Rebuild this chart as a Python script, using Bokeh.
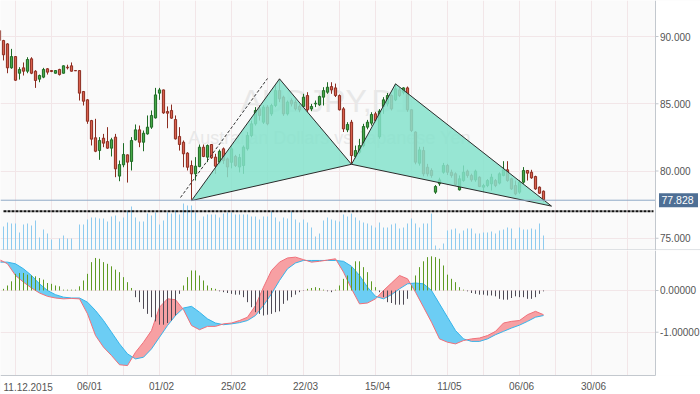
import numpy as np
from bokeh.plotting import figure
from bokeh.layouts import column
from bokeh.models import Range1d, FixedTicker, ColumnDataSource
from bokeh.core.properties import value
from bokeh.embed import file_html
from bokeh.resources import INLINE

# ---------------- data (bar index 0 = 11.12.2015, one bar per weekday) ----------------
bar_index = list(range(-4, 133))
opens = [90.45, 89.70, 89.45, 87.67, 88.51, 87.27, 87.67, 87.42, 88.34, 87.42,
         86.83, 86.98, 87.60, 87.47, 87.27, 87.55, 87.27, 87.72, 87.82, 87.47,
         87.47, 85.91, 85.29, 83.75, 82.47, 81.52, 82.44, 82.19, 81.70, 82.52,
         79.62, 80.46, 81.20, 80.71, 82.32, 83.06, 82.14, 82.76, 83.26, 83.95,
         85.79, 86.03, 84.42, 84.50, 83.83, 82.57, 82.14, 81.33, 80.41, 79.79,
         80.33, 81.77, 81.03, 81.97, 81.03, 80.66, 81.65, 80.90, 80.65, 81.08,
         80.30, 80.41, 81.65, 82.64, 83.51, 84.62, 83.63, 84.75, 84.25, 84.87,
         85.98, 85.49, 84.25, 85.24, 85.12, 84.80, 84.80, 85.61, 84.62, 84.99,
         84.92, 85.49, 85.86, 86.28, 86.18, 85.61, 84.62, 83.06, 83.63, 81.08,
         81.40, 81.89, 83.26, 83.56, 84.25, 82.55, 84.80, 84.99, 85.61, 85.29,
         86.03, 85.86, 86.18, 84.55, 82.90, 80.58, 81.52, 80.28, 80.04, 78.43,
         79.05, 79.91, 80.41, 79.91, 79.79, 78.60, 79.29, 79.99, 79.67, 79.34,
         79.54, 78.80, 78.92, 79.05, 79.29, 79.10, 79.67, 80.09, 79.42, 78.92,
         78.43, 79.17, 80.04, 79.91, 79.59, 78.80, 78.50]
highs = [90.60, 89.75, 89.50, 89.08, 88.55, 87.72, 88.07, 88.46, 88.46, 87.50,
         87.17, 87.67, 87.65, 87.50, 87.50, 87.60, 87.85, 87.90, 88.07, 87.50,
         87.50, 85.95, 85.35, 83.80, 83.88, 82.52, 82.76, 83.26, 82.47, 82.76,
         80.78, 82.07, 81.23, 82.52, 83.46, 83.38, 83.01, 84.13, 84.50, 86.18,
         86.18, 86.05, 84.80, 84.94, 84.13, 83.26, 82.27, 81.40, 80.78, 81.03,
         81.97, 81.97, 81.97, 82.00, 81.28, 81.60, 81.75, 81.00, 81.90, 81.20,
         81.27, 81.90, 82.89, 83.75, 84.75, 84.87, 84.90, 84.90, 85.00, 86.36,
         86.85, 85.60, 85.24, 85.40, 85.30, 84.95, 85.74, 85.86, 84.99, 85.24,
         85.60, 86.23, 86.60, 86.60, 86.50, 85.69, 84.75, 83.63, 83.80, 81.89,
         82.39, 83.51, 83.80, 84.37, 84.40, 84.60, 85.49, 85.80, 85.70, 86.48,
         86.20, 86.23, 86.28, 84.60, 82.95, 81.80, 81.80, 80.53, 80.20, 78.95,
         79.50, 80.60, 80.53, 80.10, 79.90, 79.67, 80.41, 80.10, 79.80, 80.10,
         79.60, 79.05, 79.40, 79.79, 79.40, 79.90, 80.73, 80.73, 79.50, 79.29,
         79.30, 80.29, 80.06, 80.09, 79.65, 78.85, 78.55]
lows = [89.60, 88.22, 87.27, 87.60, 86.70, 86.80, 87.10, 87.27, 87.20, 86.18,
        86.60, 86.90, 87.17, 87.35, 87.25, 87.10, 87.25, 87.55, 87.40, 87.44,
        85.24, 84.87, 83.51, 81.90, 81.40, 80.83, 81.77, 81.65, 81.08, 79.54,
        79.24, 80.28, 79.14, 80.04, 82.27, 81.77, 81.47, 82.70, 83.13, 83.90,
        85.29, 84.25, 83.18, 83.88, 82.34, 81.52, 80.28, 80.04, 77.80, 79.29,
        80.28, 81.03, 80.66, 80.90, 79.79, 80.50, 80.53, 79.54, 80.20, 80.30,
        79.90, 79.79, 81.52, 82.51, 83.38, 83.75, 83.50, 83.40, 84.10, 84.75,
        85.12, 84.10, 84.13, 84.80, 84.50, 84.37, 84.75, 84.37, 84.45, 84.75,
        84.85, 84.87, 85.74, 85.74, 85.50, 84.50, 82.90, 82.89, 80.53, 80.90,
        81.27, 81.77, 83.10, 83.38, 83.60, 82.40, 84.25, 84.80, 84.50, 85.20,
        85.50, 85.70, 84.40, 82.90, 80.50, 80.40, 79.60, 79.60, 79.50, 78.30,
        78.90, 79.80, 79.70, 79.50, 78.90, 78.55, 79.20, 79.50, 79.20, 79.20,
        78.80, 78.43, 78.80, 78.55, 78.80, 79.00, 79.60, 79.20, 78.60, 78.20,
        78.30, 79.05, 79.29, 79.42, 78.60, 78.30, 77.68]
closes = [89.70, 88.64, 87.67, 88.51, 86.75, 87.55, 87.42, 88.29, 87.27, 86.73,
          87.10, 87.55, 87.35, 87.40, 87.47, 87.17, 87.82, 87.67, 87.42, 87.45,
          85.79, 85.19, 83.70, 82.37, 81.47, 82.27, 82.07, 81.70, 82.32, 80.16,
          80.48, 81.23, 80.66, 82.27, 83.06, 82.14, 82.81, 83.26, 84.13, 85.66,
          86.03, 84.32, 84.30, 83.93, 82.39, 81.97, 81.28, 80.28, 79.79, 80.36,
          81.77, 81.08, 81.90, 80.98, 80.36, 81.47, 80.78, 80.30, 81.65, 80.41,
          81.00, 81.77, 82.64, 83.51, 84.50, 84.13, 84.75, 83.51, 84.87, 85.98,
          85.37, 84.25, 85.12, 84.99, 84.62, 84.55, 85.49, 84.55, 84.80, 85.04,
          85.54, 85.98, 86.23, 86.03, 85.61, 84.55, 83.13, 83.46, 81.15, 81.52,
          81.89, 83.31, 83.63, 84.20, 83.75, 84.45, 85.29, 85.61, 84.62, 86.11,
          85.61, 86.18, 84.55, 83.01, 80.66, 81.57, 79.79, 79.79, 79.67, 78.85,
          79.34, 80.41, 79.91, 79.67, 79.00, 79.42, 79.91, 79.67, 79.34, 79.99,
          78.85, 78.92, 79.29, 79.54, 78.92, 79.79, 80.09, 79.29, 78.67, 78.30,
          79.17, 80.04, 79.84, 79.49, 78.67, 78.35, 77.828]
volumes = [25, 24, 28, 27, 27, 18, 26, 27, 25, 30,
           13, 21, 17, 11, 0, 12, 15, 12, 12, 0,
           26, 26, 31, 33, 33, 32, 32, 29, 34, 35,
           29, 33, 40, 44, 33, 29, 29, 37, 35, 38,
           26, 30, 38, 37, 40, 36, 47, 45, 45, 38,
           30, 34, 36, 36, 36, 33, 37, 38, 38, 36,
           36, 36, 36, 34, 34, 31, 34, 34, 39, 33,
           29, 33, 32, 39, 31, 28, 31, 28, 23, 14,
           17, 30, 33, 31, 30, 29, 36, 34, 37, 33,
           30, 28, 27, 25, 23, 28, 23, 23, 26, 27,
           22, 23, 27, 32, 27, 23, 27, 27, 37, 5,
           2, 7, 20, 21, 22, 17, 20, 22, 22, 17,
           17, 18, 18, 19, 17, 20, 21, 23, 22, 12,
           23, 21, 21, 22, 21, 27, 15]
macd_hist = [0.0, 0.04, 0.12, 0.22, 0.40, 0.42, 0.42, 0.38, 0.36, 0.34,
             0.30, 0.26, 0.18, 0.16, 0.12, 0.10, 0.02, 0.02, 0.02, 0.02,
             0.10, 0.24, 0.40, 0.68, 0.78, 0.76, 0.68, 0.64, 0.58, 0.50,
             0.44, 0.32, 0.20, 0.06, -0.16, -0.28, -0.44, -0.56, -0.64, -0.74,
             -0.82, -0.82, -0.78, -0.72, -0.60, -0.08, 0.12, 0.32, 0.48, 0.48,
             0.36, 0.24, 0.12, 0.06, 0.04, -0.02, -0.04, -0.06, -0.08, -0.10,
             -0.10, -0.16, -0.28, -0.40, -0.52, -0.56, -0.60, -0.58, -0.56, -0.52,
             -0.50, -0.32, -0.24, -0.16, -0.10, -0.04, -0.01, 0.04, 0.06, 0.08,
             0.06, 0.02, -0.02, -0.04, 0.02, 0.12, 0.28, 0.36, 0.56, 0.70,
             0.70, 0.56, 0.44, 0.22, 0.08, -0.04, -0.16, -0.28, -0.30, -0.34,
             -0.34, -0.34, -0.20, 0.12, 0.36, 0.56, 0.70, 0.80, 0.82, 0.80,
             0.76, 0.60, 0.38, 0.28, 0.20, 0.08, 0.02, -0.02, -0.06, -0.08,
             -0.10, -0.10, -0.12, -0.12, -0.14, -0.20, -0.22, -0.22, -0.18, -0.14,
             -0.16, -0.16, -0.20, -0.20, -0.16, -0.08, -0.02]
macd_x = list(range(-4, 133, 2))
macd_line = [0.74, 0.64, 0.36, 0.20, 0.06, -0.06, -0.14, -0.18, -0.20, -0.19,
             -0.20, -0.56, -1.08, -1.36, -1.56, -1.78, -1.80, -1.48, -1.24, -0.96,
             -0.40, -0.20, -0.22, -0.46, -0.84, -0.94, -0.86, -0.86, -0.80, -0.78,
             -0.72, -0.64, -0.36, 0.08, 0.48, 0.68, 0.78, 0.80, 0.74, 0.68,
             0.70, 0.73, 0.76, 0.44, 0.04, -0.32, -0.30, -0.20, 0.00, 0.18,
             0.36, 0.28, -0.04, -0.40, -0.76, -1.16, -1.24, -1.28, -1.20, -1.16,
             -1.14, -1.08, -0.98, -0.78, -0.74, -0.72, -0.58, -0.50, -0.58]
signal_line = [0.68, 0.68, 0.64, 0.52, 0.36, 0.16, 0.00, -0.10, -0.16, -0.18,
               -0.18, -0.28, -0.48, -0.72, -1.00, -1.28, -1.52, -1.64, -1.60, -1.40,
               -1.12, -0.84, -0.60, -0.42, -0.38, -0.52, -0.68, -0.78, -0.82, -0.80,
               -0.77, -0.72, -0.60, -0.36, -0.08, 0.24, 0.52, 0.66, 0.72, 0.72,
               0.72, 0.72, 0.72, 0.70, 0.58, 0.36, 0.08, -0.14, -0.20, -0.10,
               0.04, 0.16, 0.18, 0.16, 0.00, -0.32, -0.64, -0.96, -1.16, -1.22,
               -1.22, -1.16, -1.06, -0.98, -0.90, -0.83, -0.74, -0.64, -0.60]
# harmonic pattern points X, A, B, C, D
pattern_x = [44, 66, 84, 95, 134]
pattern_y = [77.80, 86.85, 80.50, 86.48, 77.39]
trend_x = [41.25, 63.0]
trend_y = [78.03, 86.88]
support_level = 77.0
last_price = 77.828
price_ticks = [75, 80, 85, 90]
price_labels = ["75.000", "80.000", "85.000", "90.000"]
macd_ticks = [0, -1]
macd_labels = ["0.00000", "-1.00000"]
date_ticks = [0, 18, 36, 54, 72, 90, 108, 126, 144]
date_labels = ["11.12.2015", "06/01", "01/02", "25/02", "22/03", "15/04", "11/05", "06/06", "30/06"]
minor_date_ticks = [9, 27, 45, 63, 81, 99, 117, 135, 153]
title_text = "AUDJPY,D1"
subtitle_text = "Australian Dollars vs Japanese Yen"

# ---------------- geometry / styling ----------------
FONT = "Liberation Sans"
GRID = "#f2e6e8"
AXIS = "#c3c8ce"
TXT = "#555555"
W = 700                 # full width (plot + right scale)
PW = 655                # plot width in px
X0, XE = -3.75, 160.0   # bar range covered by the plot area
KX = PW / (XE - X0)     # px per bar
XMAX = X0 + W / KX
TOP_H, MACD_H, AX_H = 250, 125, 19
PY0, PY1 = 74.09, 92.677
KY_TOP = (PY1 - PY0) / TOP_H
MY0, MY1 = -2.038, 0.959
KY_M = (MY1 - MY0) / MACD_H
MY_LOW = MY0 - AX_H * KY_M

x_range = Range1d(X0, XMAX)


def base_fig(h, yr):
    f = figure(frame_width=W, frame_height=h, x_range=x_range, y_range=yr,
               output_backend="svg", toolbar_location=None,
               min_border=0, min_border_left=0, min_border_right=0,
               min_border_top=0, min_border_bottom=0,
               background_fill_color="#fafafa", border_fill_color="white",
               outline_line_color=None)
    f.xaxis.visible = False
    f.yaxis.visible = False
    f.xgrid.ticker = FixedTicker(ticks=date_ticks, minor_ticks=minor_date_ticks)
    f.xgrid.grid_line_color = GRID
    f.xgrid.minor_grid_line_color = GRID
    f.ygrid.grid_line_color = GRID
    return f


def right_scale(f, ylo, yhi, ticks, labels):
    f.quad(left=[XE], right=[XMAX], bottom=[ylo], top=[yhi], fill_color="white", line_color=None)
    f.line(x=[XE, XE], y=[ylo, yhi], line_color=AXIS, line_width=1)
    f.segment(x0=[XE] * len(ticks), y0=ticks, x1=[XE + 3 / KX] * len(ticks), y1=ticks,
              line_color=AXIS, line_width=1)
    f.text(x=[XE + 4.5 / KX] * len(ticks), y=ticks, text=labels, text_font=value(FONT),
           text_font_size="10px", text_color=TXT, text_align="left", text_baseline="middle")


# ---------------- price panel ----------------
top = base_fig(TOP_H, Range1d(PY0, PY1))
top.ygrid.ticker = FixedTicker(ticks=price_ticks)
top.extra_y_ranges = {"vol": Range1d(0, 250)}

top.text(x=[77.75], y=[85.17], text=[title_text], text_font=value(FONT), text_font_size="32px",
         text_color="#e8e8e8", text_align="center", text_baseline="middle")
top.text(x=[78.5], y=[82.49], text=[subtitle_text], text_font=value(FONT), text_font_size="18px",
         text_color="#e8e8e8", text_align="center", text_baseline="middle")

xi = np.array(bar_index, dtype=float)
top.segment(x0=xi, y0=np.zeros(len(xi)), x1=xi, y1=np.array(volumes, dtype=float),
            line_color="#8ecbef", line_width=1, y_range_name="vol")

top.line(x=[-3.0, XE - 0.5], y=[support_level, support_level], line_color="#111111",
         line_width=2, line_dash="3 1")

o = np.array(opens); h = np.array(highs); l = np.array(lows); c = np.array(closes)
up = c >= o
dn = ~up
G_FILL, G_EDGE = "#46a847", "#1e6b24"
R_FILL, R_EDGE = "#d9604d", "#8c2d21"
for mask, fill, edge in ((up, G_FILL, G_EDGE), (dn, R_FILL, R_EDGE)):
    src = ColumnDataSource(dict(x=xi[mask], o=o[mask], h=h[mask], l=l[mask], c=c[mask]))
    top.segment(x0="x", y0="l", x1="x", y1="h", source=src, line_color=edge, line_width=1)
    top.vbar(x="x", width=0.55, top="o", bottom="c", source=src, fill_color=fill,
             line_color=edge, line_width=1)

top.line(x=trend_x, y=trend_y, line_color="#333333", line_width=1, line_dash="3 2")

top.patch(x=pattern_x[0:3], y=pattern_y[0:3], fill_color="#85e2cb", fill_alpha=0.85,
          line_color="#2b2b2b", line_width=1)
top.patch(x=pattern_x[2:5], y=pattern_y[2:5], fill_color="#85e2cb", fill_alpha=0.85,
          line_color="#2b2b2b", line_width=1)

top.line(x=[X0, XE], y=[last_price, last_price], line_color="#8fa9c6", line_width=1)

right_scale(top, PY0, PY1, price_ticks, price_labels)
# divider between panels (spans plot and scale)
top.line(x=[X0, XMAX], y=[PY0 + 0.5 * KY_TOP, PY0 + 0.5 * KY_TOP], line_color=AXIS, line_width=1)
# last price tag
top.quad(left=[XE + 3.5 / KX], right=[XE + 42.5 / KX], bottom=[last_price - 7 * KY_TOP],
         top=[last_price + 7 * KY_TOP], fill_color="#4e6f95", line_color=None)
top.text(x=[XE + 6 / KX], y=[last_price], text=[f"{last_price:.3f}"], text_font=value(FONT),
         text_font_size="10.5px", text_color="white", text_align="left", text_baseline="middle")

# ---------------- MACD panel ----------------
bot = base_fig(MACD_H + AX_H, Range1d(MY_LOW, MY1))
bot.ygrid.ticker = FixedTicker(ticks=macd_ticks)

mx = np.array(macd_x, dtype=float); m = np.array(macd_line); s = np.array(signal_line)
fx, fm, fs = [mx[0]], [m[0]], [s[0]]
for i in range(1, len(mx)):
    d0 = m[i - 1] - s[i - 1]; d1 = m[i] - s[i]
    if d0 * d1 < 0:
        t = d0 / (d0 - d1)
        xc = mx[i - 1] + t * (mx[i] - mx[i - 1])
        yc = m[i - 1] + t * (m[i] - m[i - 1])
        fx.append(xc); fm.append(yc); fs.append(yc)
    fx.append(mx[i]); fm.append(m[i]); fs.append(s[i])
fx = np.array(fx); fm = np.array(fm); fs = np.array(fs)
bot.varea(x=fx, y1=fs, y2=np.maximum(fm, fs), fill_color="#f7a0a3")
bot.varea(x=fx, y1=np.minimum(fm, fs), y2=fs, fill_color="#6ccdf4")
bot.line(x=mx, y=s, line_color="#35b4ea", line_width=1)
bot.line(x=mx, y=m, line_color="#f0707a", line_width=1)

hv = np.array(macd_hist)
hcol = np.where(hv >= 0, "#5e9a23", "#4e4a55")
bot.segment(x0=xi, y0=np.zeros(len(xi)), x1=xi, y1=hv, line_color=hcol, line_width=1)

# bottom date strip
bot.quad(left=[X0], right=[XMAX], bottom=[MY_LOW], top=[MY0], fill_color="white", line_color=None)
right_scale(bot, MY0, MY1, macd_ticks, macd_labels)
bot.line(x=[X0, XE], y=[MY0, MY0], line_color=AXIS, line_width=1)
label_y = MY0 - 11 * KY_M
bot.text(x=[t + 0.5 for t in date_ticks[1:]], y=[label_y] * (len(date_ticks) - 1), text=date_labels[1:],
         text_font=value(FONT), text_font_size="10px", text_color=TXT,
         text_align="center", text_baseline="middle")
bot.text(x=[date_ticks[0] - 12 / KX], y=[label_y], text=[date_labels[0]],
         text_font=value(FONT), text_font_size="10px", text_color=TXT,
         text_align="left", text_baseline="middle")

layout = column(top, bot, spacing=0)
open("out.html", "w").write(file_html(layout, INLINE))
